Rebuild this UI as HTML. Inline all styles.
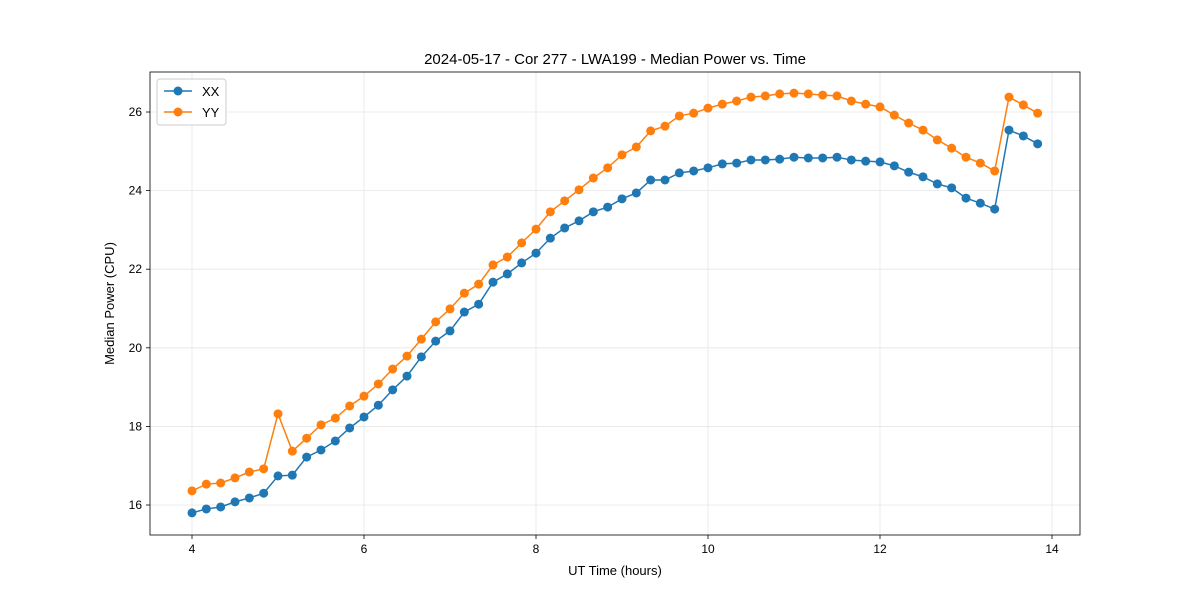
<!DOCTYPE html>
<html><head><meta charset="utf-8">
<style>
body{margin:0;background:#fff;font-family:"Liberation Sans","DejaVu Sans",sans-serif}
svg text{font-family:"Liberation Sans","DejaVu Sans",sans-serif}
</style></head>
<body>
<svg id="chart" width="1200" height="600"></svg>
<script>
const startHour = 4;
const stepHour = 1/6;
const xxValues = [15.80,15.90,15.95,16.08,16.18,16.30,16.74,16.76,17.22,17.40,17.63,17.96,18.24,18.54,18.93,19.28,19.77,20.17,20.43,20.91,21.11,21.67,21.88,22.16,22.41,22.79,23.05,23.23,23.46,23.58,23.79,23.94,24.27,24.27,24.45,24.50,24.58,24.68,24.70,24.78,24.78,24.80,24.85,24.83,24.83,24.85,24.78,24.75,24.73,24.63,24.47,24.35,24.17,24.07,23.81,23.68,23.53,25.54,25.39,25.19];
const yyValues = [16.36,16.53,16.56,16.69,16.84,16.92,18.32,17.37,17.70,18.04,18.21,18.52,18.77,19.08,19.46,19.79,20.22,20.66,20.99,21.39,21.62,22.11,22.31,22.67,23.02,23.46,23.74,24.02,24.32,24.58,24.91,25.11,25.52,25.64,25.90,25.97,26.10,26.20,26.28,26.38,26.41,26.46,26.48,26.46,26.43,26.41,26.28,26.20,26.13,25.92,25.72,25.54,25.29,25.08,24.85,24.70,24.50,26.38,26.18,25.97];
const xTicks = [4,6,8,10,12,14];
const yTicks = [16,18,20,22,24,26];

const NS = "http://www.w3.org/2000/svg";
const svg = document.getElementById('chart');
const L=150,R=1080,T=72,B=535;
const xMin=3.5116, xMax=14.3256, yMin=15.237, yMax=27.018;
const xS = v => L + (v-xMin)/(xMax-xMin)*(R-L);
const yS = v => B - (v-yMin)/(yMax-yMin)*(B-T);
function mk(tag, attrs, parent){const e=document.createElementNS(NS,tag);for(const k in attrs)e.setAttribute(k,attrs[k]);(parent||svg).appendChild(e);return e;}

const grid = mk('g',{});


xTicks.forEach(t=>{
  mk('line',{x1:xS(t),x2:xS(t),y1:T,y2:B,stroke:'#e6e6e6','stroke-width':0.8},grid);
  const tk = mk('line',{x1:xS(t),x2:xS(t),y1:B,y2:B+4,stroke:'#000','stroke-width':0.8});
  
  
  const lb = mk('text',{x:xS(t),y:B+18,'text-anchor':'middle','font-size':12});
  lb.textContent=t;
  
  
});
yTicks.forEach(t=>{
  mk('line',{x1:L,x2:R,y1:yS(t),y2:yS(t),stroke:'#e6e6e6','stroke-width':0.8},grid);
  const tk = mk('line',{x1:L-4,x2:L,y1:yS(t),y2:yS(t),stroke:'#000','stroke-width':0.8});
  
  
  const lb = mk('text',{x:L-8,y:yS(t)+4,'text-anchor':'end','font-size':12});
  lb.textContent=t;
  
  
});

function series(vals,color,name){
  const g = mk('g',{});
  
  
  const pts = vals.map((v,i)=>xS(startHour+i*stepHour).toFixed(2)+','+yS(v).toFixed(2)).join(' ');
  mk('polyline',{points:pts,fill:'none',stroke:color,'stroke-width':1.5},g);
  vals.forEach((v,i)=>{
    const c = mk('circle',{cx:xS(startHour+i*stepHour),cy:yS(v),r:4.5,fill:color},g);
    
    
  });
}
series(xxValues,'#1f77b4','series-xx');
series(yyValues,'#ff7f0e','series-yy');

const frame = mk('rect',{x:L,y:T,width:R-L,height:B-T,fill:'none',stroke:'#000','stroke-width':0.8});



const title = mk('text',{x:(L+R)/2,y:64,'text-anchor':'middle','font-size':15});
title.textContent='2024-05-17 - Cor 277 - LWA199 - Median Power vs. Time';


const xt = mk('text',{x:(L+R)/2,y:575,'text-anchor':'middle','font-size':13});
xt.textContent='UT Time (hours)';


const yt = mk('text',{x:114,y:(T+B)/2,'text-anchor':'middle','font-size':13,transform:'rotate(-90 114 '+((T+B)/2)+')'});
yt.textContent='Median Power (CPU)';



const lg = mk('g',{});


mk('rect',{x:157,y:79,width:69,height:46,rx:3,fill:'#fff',stroke:'#ccc','stroke-width':1},lg);
[['XX','#1f77b4',91],['YY','#ff7f0e',112]].forEach(([n,c,y])=>{
  const e = mk('g',{},lg);
  
  
  mk('line',{x1:164,x2:192,y1:y,y2:y,stroke:c,'stroke-width':1.5},e);
  mk('circle',{cx:178,cy:y,r:4.5,fill:c},e);
  const t = mk('text',{x:202,y:y+5,'font-size':13},e);
  t.textContent=n;
});
</script>
</body></html>
